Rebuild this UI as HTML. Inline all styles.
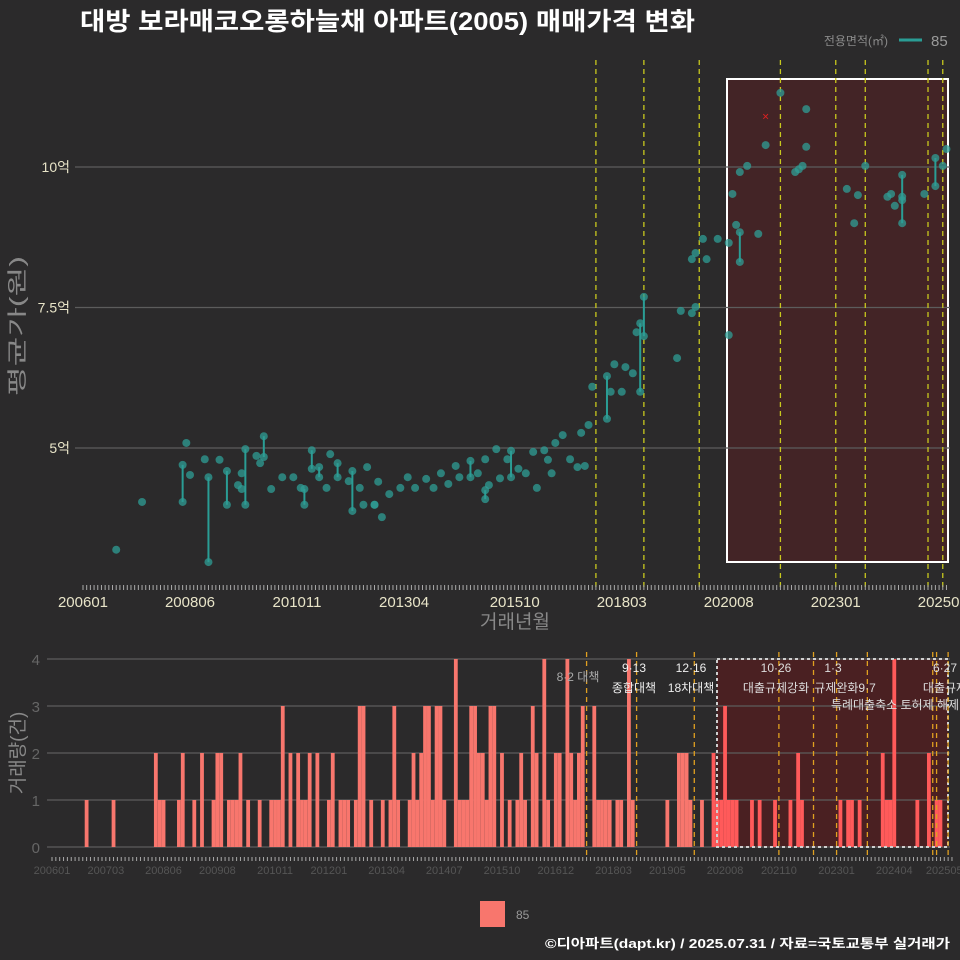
<!DOCTYPE html>
<html><head><meta charset="utf-8">
<style>
html,body{margin:0;padding:0;background:#2b2a2b;}
svg{display:block;font-family:"Liberation Sans","Noto Sans CJK KR",sans-serif;}
</style></head>
<body>
<svg id="c" width="960" height="960" viewBox="0 0 960 960" xmlns="http://www.w3.org/2000/svg">
<rect x="0" y="0" width="960" height="960" fill="#2b2a2b"/>
<text x="80" y="30" fill="#ffffff" font-size="25" font-weight="bold" textLength="615" lengthAdjust="spacingAndGlyphs">대방 보라매코오롱하늘채 아파트(2005) 매매가격 변화</text>
<g>
<text x="888" y="45" fill="#8a8a8a" font-size="12" text-anchor="end">전용면적(㎡)</text>
<line x1="899" y1="40" x2="922" y2="40" stroke="#2a9d95" stroke-width="3"/>
<text x="931" y="46" fill="#9a9a9a" font-size="15">85</text>
</g>
<g id="topPanel"></g>
<g id="botPanel"></g>
<g>
<rect x="480" y="901" width="25" height="26" fill="#f8766d"/>
<text x="516" y="919" fill="#999" font-size="12">85</text>
</g>
<text x="950" y="948" fill="#ffffff" font-size="13" font-weight="bold" text-anchor="end" textLength="405" lengthAdjust="spacingAndGlyphs">©디아파트(dapt.kr) / 2025.07.31 / 자료=국토교통부 실거래가</text>
</svg>
<script>
// ---- data ----
const priceMonths = [9,16,27,27,28,29,33,34,34,37,39,39,43,42,43,44,44,47,48,49,49,51,54,57,59,60,60,62,62,64,64,66,67,69,69,72,73,73,75,76,77,79,79,81,80,83,86,88,90,93,95,97,99,101,102,105,105,107,109,109,110,109,112,113,115,116,116,118,120,122,123,125,127,126,128,130,132,134,135,136,137,138,142,142,143,144,146,147,149,150,151,151,152,152,161,162,165,166,165,166,168,169,172,175,176,177,178,178,175,178,180,183,185,189,196,193,194,195,196,207,209,210,212,218,219,220,222,222,222,222,228,231,231,233,234];
const priceValues = [3.19,4.04,4.04,4.70,5.09,4.52,4.80,4.48,2.97,4.79,4.59,3.99,4.55,4.34,4.27,3.99,4.98,4.86,4.73,4.84,5.21,4.27,4.48,4.48,4.29,4.27,3.99,4.96,4.63,4.66,4.48,4.29,4.89,4.73,4.48,4.41,4.59,3.88,4.29,3.99,4.66,3.99,3.99,3.77,4.40,4.18,4.29,4.48,4.29,4.45,4.29,4.55,4.36,4.68,4.48,4.77,4.48,4.55,4.25,4.09,4.34,4.80,4.98,4.46,4.80,4.95,4.48,4.63,4.55,4.93,4.29,4.96,4.55,4.79,5.09,5.23,4.80,4.66,5.27,4.68,5.41,6.09,5.52,6.28,6.00,6.49,6.00,6.44,6.33,7.06,6.00,7.22,7.69,6.99,6.60,7.44,7.40,7.51,8.36,8.47,8.72,8.36,8.72,8.65,9.52,8.97,8.84,8.31,7.01,9.91,10.02,8.81,10.39,11.32,11.03,9.91,9.96,10.02,10.36,9.61,9.00,9.50,10.02,9.47,9.52,9.31,9.86,9.47,9.41,9.00,9.52,10.16,9.66,10.02,10.32];
const cancelMonths = [185];
const cancelValues = [10.9];
const yTickValues = [5,7.5,10];
const yTickLabels = ["5억","7.5억","10억"];
const topXTickMonths = [0,29,58,87,117,146,175,204,233];
const topXTickLabels = ["200601","200806","201011","201304","201510","201803","202008","202301","202506"];
const topEventMonths = [139,152,167,189,204,212,229,233];
const barMonths = [9,16,27,28,29,33,34,37,39,42,43,44,46,47,48,49,51,54,57,58,59,60,62,64,65,66,67,69,72,73,75,76,77,79,80,81,83,86,88,89,90,93,94,95,96,97,98,99,100,101,102,105,106,107,108,109,110,111,112,113,114,115,117,119,121,122,123,125,126,128,129,131,132,134,135,136,137,138,141,142,143,144,145,147,148,150,151,160,163,164,165,166,169,172,173,174,175,176,177,178,182,184,188,192,194,195,205,207,208,210,216,217,218,219,225,228,230,231];
const barCounts = [1,1,2,1,1,1,2,1,2,1,2,2,1,1,1,2,1,1,1,1,1,3,2,2,1,1,2,2,1,2,1,1,1,1,3,3,1,1,1,3,1,1,2,1,2,3,3,1,3,3,1,4,1,1,1,3,3,2,2,1,3,3,2,1,1,2,1,3,2,4,1,2,2,4,2,1,2,3,3,1,1,1,1,1,1,4,1,1,2,2,2,1,1,2,1,1,3,1,1,1,1,1,1,1,2,1,1,1,1,1,2,1,1,4,1,2,1,1];
const botEventMonths = [139,152,167,189,198,204,212,229,230,233];
const botXTickMonths = [0,14,29,43,58,72,87,102,117,131,146,160,175,189,204,219,232];
const botXTickLabels = ["200601","200703","200806","200908","201011","201201","201304","201407","201510","201612","201803","201905","202008","202110","202301","202404","202505"];
const botYTicks = [0,1,2,3,4];

// ---- scales ----
const NS="http://www.w3.org/2000/svg";
const tx = m => 83 + m*3.69;
const ty = p => 448 - (p-5)*56.2;
const bx = m => 52 + m*3.846;
const by = v => 847 - v*47;
function mk(parent,tag,attrs,text){const el=document.createElementNS(NS,tag);for(const k in attrs)el.setAttribute(k,attrs[k]);if(text!==undefined)el.textContent=text;parent.appendChild(el);return el;}

// ---- top panel ----
const topG=document.getElementById('topPanel');
let e;
e=mk(topG,'rect',{x:727,y:79,width:221,height:483,fill:'#432426',stroke:'#ffffff','stroke-width':2});


yTickValues.forEach((v,i)=>{
  e=mk(topG,'line',{x1:75,x2:950,y1:ty(v),y2:ty(v),stroke:'#5c5c5c','stroke-width':1.2});
  
  
  e=mk(topG,'text',{x:70,y:ty(v)+5,fill:'#e8e4c8','font-size':14,'text-anchor':'end'},yTickLabels[i]);
  
  
});
topEventMonths.forEach(m=>{
  e=mk(topG,'line',{x1:tx(m),x2:tx(m),y1:60,y2:590,stroke:'#c8c81e','stroke-width':1.3,'stroke-dasharray':'5,4'});
  
  
});
for(let m=0;m<=234;m++){
  e=mk(topG,'line',{x1:tx(m),x2:tx(m),y1:585,y2:590,stroke:'#aaa','stroke-width':1});
  
  
}
topXTickMonths.forEach((m,i)=>{
  e=mk(topG,'text',{x:tx(m),y:607,fill:'#e8e4c8','font-size':15,'text-anchor':'middle'},topXTickLabels[i]);
  
  
});
e=mk(topG,'text',{x:515,y:628,fill:'#888','font-size':19,'text-anchor':'middle'},'거래년월');


e=mk(topG,'text',{x:24,y:326,fill:'#888','font-size':20,'text-anchor':'middle',textLength:140,lengthAdjust:'spacingAndGlyphs',transform:'rotate(-90 24 326)'},'평균가(원)');


for(let i=1;i<priceMonths.length;i++){
  const d=priceMonths[i]-priceMonths[i-1];
  if(d===0){
    e=mk(topG,'line',{x1:tx(priceMonths[i-1]),y1:ty(priceValues[i-1]),x2:tx(priceMonths[i]),y2:ty(priceValues[i]),stroke:'#2a9d95','stroke-width':2});
    
    
  }
}
priceMonths.forEach((m,i)=>{
  e=mk(topG,'circle',{cx:tx(m),cy:ty(priceValues[i]),r:4,fill:'#2f9d96','fill-opacity':0.75});
  
  
});
cancelMonths.forEach((m,i)=>{
  e=mk(topG,'text',{x:tx(m),y:ty(cancelValues[i])+4,fill:'#e02020','font-size':12,'text-anchor':'middle'},'×');
  
  
});

// ---- bottom panel ----
const botG=document.getElementById('botPanel');
e=mk(botG,'rect',{x:717,y:659,width:231,height:188,fill:'#4a2022'});


botYTicks.forEach(v=>{
  e=mk(botG,'line',{x1:47,x2:950,y1:by(v),y2:by(v),stroke:'#5c5c5c','stroke-width':1.2});
  
  
  e=mk(botG,'text',{x:40,y:by(v)+6,fill:'#666','font-size':15,'text-anchor':'end'},String(v));
  
  
});
barMonths.forEach((m,i)=>{
  e=mk(botG,'rect',{x:bx(m)-1.9,y:by(barCounts[i]),width:3.8,height:by(0)-by(barCounts[i]),fill:m>=172?'#ff5a5a':'#f8766d'});
  
  
});
e=mk(botG,'rect',{x:717,y:659,width:231,height:188,fill:'none',stroke:'#cfcfcf','stroke-width':2,'stroke-dasharray':'3,3'});


botEventMonths.forEach(m=>{
  e=mk(botG,'line',{x1:bx(m),x2:bx(m),y1:652,y2:855,stroke:'#e0a020','stroke-width':1.3,'stroke-dasharray':'5,4'});
  
  
});
for(let m=0;m<=234;m++){
  e=mk(botG,'line',{x1:bx(m),x2:bx(m),y1:857,y2:861,stroke:'#aaa','stroke-width':1});
  
  
}
botXTickMonths.forEach((m,i)=>{
  e=mk(botG,'text',{x:bx(m),y:874,fill:'#555','font-size':11,'text-anchor':'middle'},botXTickLabels[i]);
  
  
});
e=mk(botG,'text',{x:24,y:753,fill:'#888','font-size':19,'text-anchor':'middle',transform:'rotate(-90 24 753)'},'거래량(건)');


const ann=[[578,681,'8·2 대책','#aaa'],[634,672,'9·13','#eee'],[634,692,'종합대책','#eee'],[691,672,'12·16','#eee'],[691,692,'18차대책','#eee'],[776,672,'10·26','#ddd'],[776,692,'대출규제강화','#ddd'],[833,672,'1·3','#ddd'],[845,692,'규제완화9·7','#ddd'],[895,709,'특례대출축소 토허제 해제','#ddd'],[945,672,'6·27','#ddd'],[945,692,'대출규제','#ddd']];
ann.forEach(a=>{
  e=mk(botG,'text',{x:a[0],y:a[1],fill:a[3],'font-size':12,'text-anchor':'middle'},a[2]);
  
  
});
</script>
</body></html>
